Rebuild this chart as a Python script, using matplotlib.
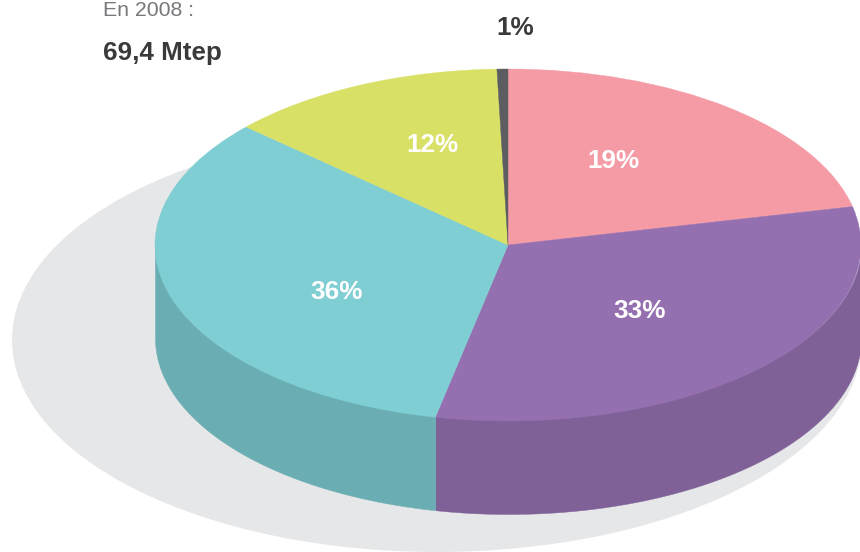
import numpy as np
import matplotlib
matplotlib.use("Agg")
import matplotlib.pyplot as plt
from matplotlib.patches import Ellipse

# parts measured on the drawing, the printed labels do not add up to them
sources = ["rose", "violet", "turquoise", "jaune", "gris"]
shares = [21.5, 31.8, 33.4, 12.8, 0.5]
labels = ["19%", "33%", "36%", "12%", "1%"]
top_colors = ["#f59ba6", "#9570b0", "#7fced3", "#d8e066", "#5c5d60"]
side_colors = ["#c47c85", "#7f6198", "#6aadb2", "#adb352", "#4e4f52"]

title_light = "En 2008 :"
title_bold = "69,4 Mtep"

W, H = 860, 552
CX, CY = 508, 245
RX, RY = 353, 176
DEPTH = 93 / RY

plt.rcParams["font.family"] = ["Liberation Sans", "DejaVu Sans"]

fig = plt.figure(figsize=(W / 100, H / 100), dpi=100)
ax = fig.add_axes([0, 0, 1, 1])

# shadow under the pie
ax.add_patch(Ellipse(((437 - CX) / RX, (CY - 340) / RY), 2 * 425 / RX, 2 * 212 / RY,
                     facecolor="#e6e7e9", edgecolor="none", zorder=0))

# side walls, only the front half of the rim is visible
edges = 90 - 360 * np.cumsum([0] + shares) / sum(shares)
for i in range(len(shares)):
    a0, a1 = np.radians(edges[i]), np.radians(edges[i + 1])
    a0 = min(a0, 0)
    a1 = max(a1, -np.pi)
    if a1 >= a0:
        continue
    t = np.linspace(a0, a1, 200)
    # start a bit inside the rim so no light seam shows under the top
    ax.fill_between(np.cos(t), np.sin(t) * 0.99, np.sin(t) - DEPTH, color=side_colors[i],
                    linewidth=0.3, zorder=1)

# the axes units are RX and RY, so the pie of radius 1 comes out as an ellipse
wedges, _ = ax.pie(shares, colors=top_colors, startangle=90, counterclock=False,
                   radius=1)
for w, c in zip(wedges, top_colors):
    w.set_edgecolor(c)
    w.set_linewidth(0.3)
    w.set_zorder(2)

ax.set_aspect("auto")
ax.set_xlim(-CX / RX, (W - CX) / RX)
ax.set_ylim((CY - H) / RY, CY / RY)
ax.axis("off")


def px(x, y):
    return (x - CX) / RX, (CY - y) / RY


label_pos = [(613, 161), (640, 311), (337, 292), (432, 145), (515, 28)]
for i in range(len(labels)):
    x, y = px(*label_pos[i])
    col = "#3a3a3c" if i == 4 else "white"
    ax.text(x, y, labels[i], color=col, fontsize=18.8, fontweight="bold",
            ha="center", va="center", zorder=5)

x, y = px(103, 16)
ax.text(x, y, title_light, color="#77787b", fontsize=15.3, ha="left", va="baseline", zorder=5)
x, y = px(103, 53)
ax.text(x, y, title_bold, color="#3a3a3c", fontsize=18.7, fontweight="bold",
        ha="left", va="center", zorder=5)

fig.savefig("out.png", dpi=100)
